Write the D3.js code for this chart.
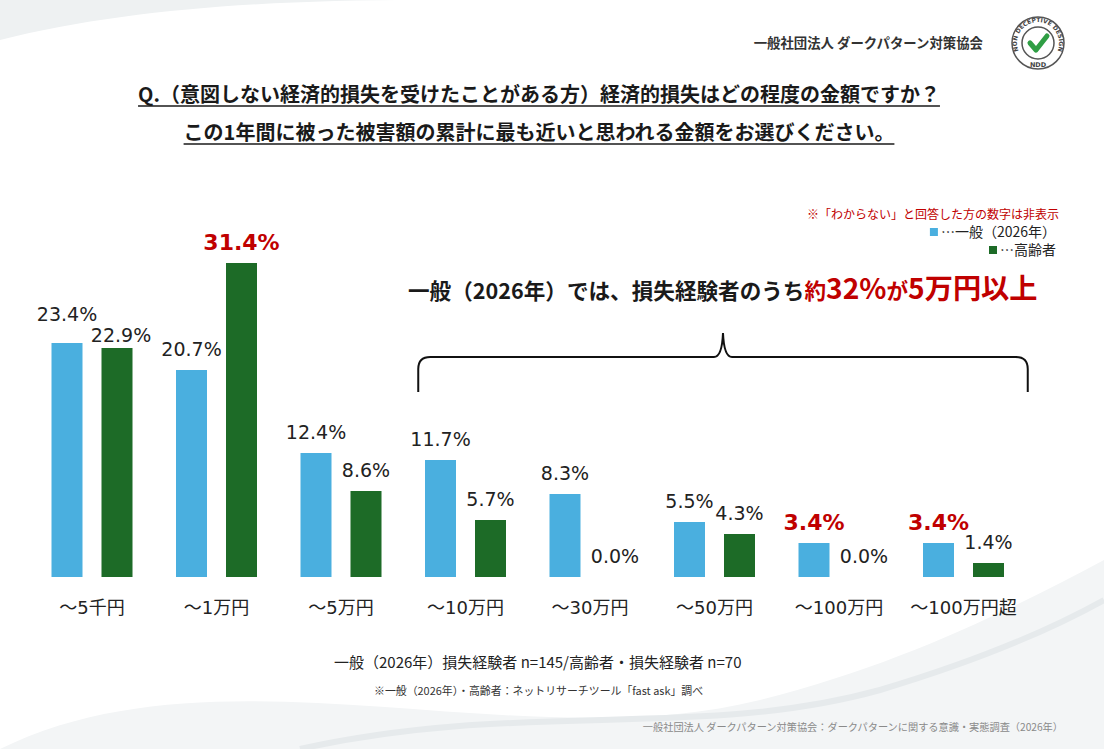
<!DOCTYPE html>
<html>
<head>
<meta charset="utf-8">
<script src="https://cdn.jsdelivr.net/npm/d3@7"></script>
<style>
  html, body { margin: 0; padding: 0; background: #fff; }
  svg { display: block; }
</style>
</head>
<body>
<div id="viz"></div>
<script>
// chart values
let categories = ["～5千円", "～1万円", "～5万円", "～10万円", "～30万円", "～50万円", "～100万円", "～100万円超"];
let seriesKeys = ["general", "senior"];
let seriesNames = ["…一般（2026年）", "…高齢者"];
let generalValues = [23.4, 20.7, 12.4, 11.7, 8.3, 5.5, 3.4, 3.4];
let seniorValues = [22.9, 31.4, 8.6, 5.7, 0.0, 4.3, 0.0, 1.4];
// labels printed in red bold
let highlighted = [["～1万円", "senior"], ["～100万円", "general"], ["～100万円超", "general"]];

let titleLines = [
  "Q.（意図しない経済的損失を受けたことがある方）経済的損失はどの程度の金額ですか？",
  "この1年間に被った被害額の累計に最も近いと思われる金額をお選びください。"
];

let width = 1104, height = 749;
let colour = { general: "#4aafdf", senior: "#1d6b27" };
let red = "#c00000";
let jp = "'Noto Sans CJK JP', 'Noto Sans', sans-serif";
let num = "'DejaVu Sans', 'Noto Sans CJK JP', sans-serif";

let data = categories.map((c, i) => ({
  cat: c,
  general: generalValues[i],
  senior: seniorValues[i]
}));

let svg = d3.select("#viz").append("svg")
  .attr("width", width)
  .attr("height", height);

// faint background swooshes
let bg = svg.append("g");
bg.append("path")
  .attr("d", "M0,40 C120,10 260,0 420,0 L0,0 Z")
  .attr("fill", "#eef1f2");
bg.append("path")
  .attr("d", "M0,749 C220,640 520,760 760,700 C900,665 1010,610 1104,560 L1104,749 Z")
  .attr("fill", "#f3f5f6");
bg.append("path")
  .attr("d", "M300,749 C520,700 700,740 880,690 C980,660 1050,630 1104,600")
  .attr("fill", "none").attr("stroke", "#e6eaec").attr("stroke-width", 6);

// header
svg.append("text")
  .attr("x", 983).attr("y", 48)
  .attr("text-anchor", "end")
  .attr("font-family", jp).attr("font-size", 13.4).attr("font-weight", "bold")
  .attr("fill", "#333")
  .text("一般社団法人 ダークパターン対策協会");

// logo
let logo = svg.append("g").attr("transform", "translate(1038,43)");
logo.append("circle").attr("r", 26).attr("fill", "#fff").attr("stroke", "#555").attr("stroke-width", 1.5);
logo.append("circle").attr("r", 16).attr("fill", "#fff").attr("stroke", "#555").attr("stroke-width", 1.5);
logo.append("path").attr("id", "arcTop").attr("d", "M-19,9 A21,21 0 1,1 19,9").attr("fill", "none");
logo.append("text")
  .attr("font-family", num).attr("font-size", 6).attr("font-weight", "bold").attr("fill", "#444")
  .append("textPath").attr("href", "#arcTop").attr("startOffset", "50%").attr("text-anchor", "middle")
  .text("NON DECEPTIVE DESIGN");
logo.append("text")
  .attr("y", 24).attr("text-anchor", "middle")
  .attr("font-family", num).attr("font-size", 6.5).attr("font-weight", "bold").attr("fill", "#444")
  .text("NDD");
logo.append("path")
  .attr("d", "M-8,0 L-2,7 L9,-7")
  .attr("fill", "none").attr("stroke", "#2f9e44").attr("stroke-width", 5)
  .attr("stroke-linecap", "round").attr("stroke-linejoin", "round");

// title, underlined
titleLines.forEach((t, i) => {
  let y = 102 + i * 38;
  let txt = svg.append("text")
    .attr("x", 539).attr("y", y)
    .attr("text-anchor", "middle")
    .attr("font-family", jp).attr("font-size", 20).attr("font-weight", "bold")
    .attr("fill", "#1a1a1a")
    .text(t);
  let w = txt.node().getComputedTextLength();
  svg.append("line")
    .attr("x1", 539 - w / 2).attr("x2", 539 + w / 2)
    .attr("y1", y + 4).attr("y2", y + 4)
    .attr("stroke", "#1a1a1a").attr("stroke-width", 1.5);
});

// legend
svg.append("text")
  .attr("x", 1059).attr("y", 219)
  .attr("text-anchor", "end")
  .attr("font-family", jp).attr("font-size", 12).attr("fill", red)
  .text("※「わからない」と回答した方の数字は非表示");

seriesKeys.forEach((k, i) => {
  let y = 237 + i * 18;
  let t = svg.append("text")
    .attr("x", 1056).attr("y", y)
    .attr("text-anchor", "end")
    .attr("font-family", jp).attr("font-size", 14).attr("fill", "#222")
    .text(seriesNames[i]);
  let w = t.node().getComputedTextLength();
  svg.append("rect")
    .attr("x", 1056 - w - 11).attr("y", y - 9)
    .attr("width", 8).attr("height", 8)
    .attr("fill", colour[k]);
});

// scales
let baseline = 577;
let x = d3.scaleBand()
  .domain(categories)
  .range([29.75, 1025.75]);

let xSub = d3.scaleBand()
  .domain(seriesKeys)
  .range([-40.5, 40.5])
  .paddingInner(0.38);

let y = d3.scaleLinear()
  .domain([0, 35])
  .range([baseline, baseline - 350]);

let isRed = (cat, key) => highlighted.some((h) => h[0] === cat && h[1] === key);

// bars
let groups = svg.append("g")
  .selectAll("g")
  .data(data)
  .join("g")
  .attr("transform", (d) => `translate(${x(d.cat) + x.bandwidth() / 2},0)`);

groups.selectAll("rect")
  .data((d) => seriesKeys.map((k) => ({ key: k, value: d[k], cat: d.cat })))
  .join("rect")
  .attr("x", (d) => xSub(d.key))
  .attr("y", (d) => y(d.value))
  .attr("width", xSub.bandwidth())
  .attr("height", (d) => baseline - y(d.value))
  .attr("fill", (d) => colour[d.key]);

// value labels; when the two labels of a group would collide, stagger them
let labelY = (d) => y(d.value) - (isRed(d.cat, d.key) ? 13 : 14);
let labelData = (d) => {
  let items = seriesKeys.map((k) => ({ key: k, value: d[k], cat: d.cat }));
  items.forEach((it) => { it.ly = labelY(it); it.dx = 0; });
  if (Math.abs(items[0].ly - items[1].ly) < 10) {
    let top = Math.min(items[0].ly, items[1].ly);
    items[0].ly = top - 8;
    items[1].ly = top + 13;
    items[1].dx = 4;
  }
  return items;
};

groups.selectAll("text")
  .data(labelData)
  .join("text")
  .attr("x", (d) => xSub(d.key) + xSub.bandwidth() / 2 + d.dx)
  .attr("y", (d) => d.ly)
  .attr("text-anchor", "middle")
  .attr("font-family", num)
  .attr("font-size", (d) => (isRed(d.cat, d.key) ? 22 : 19))
  .attr("font-weight", (d) => (isRed(d.cat, d.key) ? "bold" : "normal"))
  .attr("fill", (d) => (isRed(d.cat, d.key) ? red : "#222"))
  .text((d) => d.value.toFixed(1) + "%");

// category axis
let xAxis = d3.axisBottom(x).tickSize(0).tickPadding(24);
let ax = svg.append("g")
  .attr("transform", `translate(0,${baseline})`)
  .call(xAxis);
ax.select(".domain").remove();
ax.selectAll("text")
  .attr("font-family", num)
  .attr("font-size", 18)
  .attr("fill", "#222");

// brace over ～10万円 .. ～100万円超
let bl = x(categories[3]) + 15;
let br = x(categories[categories.length - 1]) + x.bandwidth() + 2;
let bc = (bl + br) / 2;
let by = 357;
svg.append("path")
  .attr("d", `M${bl},392 L${bl},369 Q${bl},${by} ${bl + 12},${by} L${bc - 9},${by} Q${bc - 1},${by} ${bc},333 Q${bc + 1},${by} ${bc + 9},${by} L${br - 12},${by} Q${br},${by} ${br},369 L${br},392`)
  .attr("fill", "none")
  .attr("stroke", "#111")
  .attr("stroke-width", 2);

// callout
let callout = svg.append("text")
  .attr("x", 408).attr("y", 299)
  .attr("font-family", jp).attr("font-weight", "bold");
callout.append("tspan").attr("font-size", 21.6).attr("fill", "#1a1a1a").text("一般（2026年）では、損失経験者のうち");
callout.append("tspan").attr("font-size", 21.6).attr("fill", red).text("約");
callout.append("tspan").attr("font-size", 28.2).attr("fill", red).text("32%");
callout.append("tspan").attr("font-size", 21.6).attr("fill", red).text("が");
callout.append("tspan").attr("font-size", 28.2).attr("fill", red).text("5万円以上");

// footnotes
svg.append("text")
  .attr("x", 334).attr("y", 668)
  .attr("font-family", jp).attr("font-size", 15).attr("fill", "#222")
  .text("一般（2026年）損失経験者 n=145/高齢者・損失経験者 n=70");

svg.append("text")
  .attr("x", 374).attr("y", 695)
  .attr("font-family", jp).attr("font-size", 10.9).attr("fill", "#333")
  .text("※一般（2026年）・高齢者：ネットリサーチツール「fast ask」調べ");

svg.append("text")
  .attr("x", 1063).attr("y", 731)
  .attr("text-anchor", "end")
  .attr("font-family", jp).attr("font-size", 10.2).attr("fill", "#8a8a8a")
  .text("一般社団法人 ダークパターン対策協会：ダークパターンに関する意識・実態調査（2026年）");
</script>
</body>
</html>
